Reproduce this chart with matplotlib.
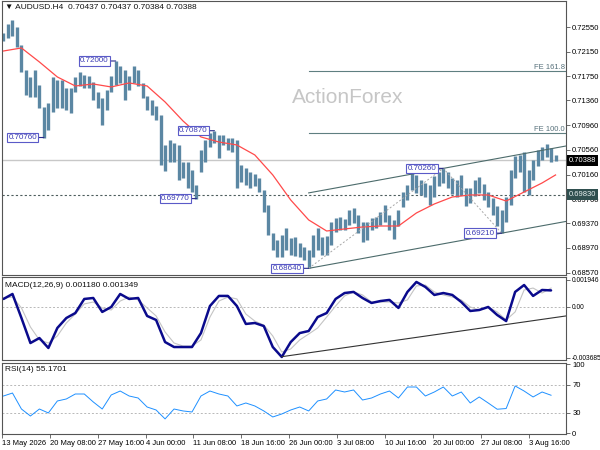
import numpy as np
import matplotlib
matplotlib.use('Agg')
import matplotlib.pyplot as plt

plt.rcParams['font.family'] = ['Liberation Sans', 'DejaVu Sans']

# each plotted bar stands for three H4 bars
bar_high = [
    0.72454, 0.72600, 0.72665, 0.72551, 0.72260, 0.71855, 0.71741, 0.71855, 0.71611, 0.71255,
    0.71320, 0.71741, 0.71692, 0.71692, 0.71563, 0.71563, 0.71741, 0.71822, 0.71773, 0.71757,
    0.71660, 0.71498, 0.71401, 0.71530, 0.71757, 0.72000, 0.71919, 0.71855, 0.71757, 0.71919,
    0.71855, 0.71644, 0.71433, 0.71368, 0.71271, 0.71125, 0.70639, 0.70720, 0.70672, 0.70639,
    0.70364, 0.70364, 0.70234, 0.69991, 0.70558, 0.70720, 0.70834, 0.70870, 0.70801, 0.70801,
    0.70753, 0.70753, 0.70720, 0.70315, 0.70266, 0.70201, 0.70169, 0.70104, 0.69910, 0.69667,
    0.69213, 0.69100, 0.69181, 0.69294, 0.69132, 0.69149, 0.69051, 0.68986, 0.68938, 0.69181,
    0.69294, 0.69149, 0.69165, 0.69391, 0.69456, 0.69472, 0.69440, 0.69586, 0.69618, 0.69505,
    0.69391, 0.69391, 0.69456, 0.69472, 0.69553, 0.69667, 0.69505, 0.69424, 0.69586, 0.69877,
    0.69991, 0.70201, 0.70153, 0.70072, 0.70023, 0.69991, 0.70137, 0.70201, 0.70260, 0.70201,
    0.70104, 0.70072, 0.70153, 0.69942, 0.69942, 0.70072, 0.70121, 0.70007, 0.69877, 0.69780,
    0.69650, 0.69586, 0.69796, 0.70234, 0.70461, 0.70477, 0.70526, 0.70234, 0.70396, 0.70558,
    0.70607, 0.70656, 0.70591, 0.70477,
]
bar_low = [
    0.72324, 0.72373, 0.72406, 0.72227, 0.71822, 0.71449, 0.71417, 0.71417, 0.71239, 0.70760,
    0.70882, 0.71174, 0.71239, 0.71239, 0.71206, 0.71158, 0.71498, 0.71595, 0.71563, 0.71563,
    0.71368, 0.71239, 0.70963, 0.71206, 0.71498, 0.71611, 0.71644, 0.71368, 0.71530, 0.71644,
    0.71595, 0.71401, 0.71206, 0.71125, 0.71044, 0.70315, 0.70218, 0.70364, 0.70364, 0.70072,
    0.70104, 0.69942, 0.69877, 0.69770, 0.70201, 0.70364, 0.70607, 0.70672, 0.70428, 0.70639,
    0.70558, 0.70526, 0.69942, 0.70040, 0.69991, 0.69942, 0.69975, 0.69877, 0.69553, 0.69181,
    0.68938, 0.68824, 0.68824, 0.68938, 0.68857, 0.68841, 0.68824, 0.68776, 0.68640, 0.68824,
    0.68938, 0.68857, 0.68857, 0.69019, 0.69230, 0.69262, 0.69262, 0.69343, 0.69375, 0.69213,
    0.69067, 0.69100, 0.69262, 0.69294, 0.69343, 0.69391, 0.69262, 0.69116, 0.69327, 0.69634,
    0.69748, 0.69910, 0.69861, 0.69829, 0.69796, 0.69667, 0.69796, 0.69975, 0.70023, 0.69942,
    0.69845, 0.69796, 0.69829, 0.69650, 0.69699, 0.69812, 0.69861, 0.69748, 0.69634, 0.69505,
    0.69327, 0.69210, 0.69391, 0.69667, 0.70104, 0.70201, 0.69877, 0.69829, 0.70072, 0.70299,
    0.70396, 0.70445, 0.70364, 0.70384,
]
# moving average, every 4th plotted bar plus the last one
ema_line = [0.72162, 0.72211, 0.71984, 0.71741, 0.71595, 0.71627, 0.71579, 0.71644,
            0.71595, 0.71336, 0.71028, 0.70769, 0.70687, 0.70639, 0.70477, 0.70153,
            0.69747, 0.69424, 0.69245, 0.69278, 0.69310, 0.69326, 0.69326, 0.69537,
            0.69683, 0.69796, 0.69829, 0.69829, 0.69731, 0.69877, 0.70023, 0.70153]

# indicators, every 2nd plotted bar
macd_main = [
    0.00056, 0.00092, -0.00082, -0.00263, -0.00227, -0.00299, -0.00154, -0.00082, -0.00046, 0.00056,
    0.00063, -0.00038, -0.00002, 0.00092, 0.00056, 0.00063, -0.00067, -0.00096, -0.00256, -0.00292,
    -0.00292, -0.00292, -0.00191, 0.00005, 0.00078, 0.00078, 0.00005, -0.00125, -0.00118, -0.00140,
    -0.00292, -0.00364, -0.00256, -0.00191, -0.00176, -0.00075, -0.00046, 0.00056, 0.00099, 0.00107,
    0.00063, 0.00027, 0.00041, 0.00049, -0.00009, 0.00107, 0.00179, 0.00143, 0.00085, 0.00099,
    0.00085, 0.00034, -0.00031, -0.00024, -0.00002, -0.00060, -0.00104, 0.00107, 0.00157, 0.00078,
    0.00121, 0.00118,
]
macd_signal = [
    0.00063, 0.00070, -0.00009, -0.00147, -0.00241, -0.00263, -0.00212, -0.00118, -0.00053, 0.00020,
    0.00034, -0.00009, -0.00024, 0.00041, 0.00070, 0.00049, -0.00009, -0.00067, -0.00183, -0.00263,
    -0.00285, -0.00285, -0.00241, -0.00075, 0.00041, 0.00070, 0.00056, -0.00053, -0.00104, -0.00133,
    -0.00212, -0.00328, -0.00306, -0.00241, -0.00198, -0.00154, -0.00075, 0.00005, 0.00078, 0.00107,
    0.00085, 0.00034, 0.00034, 0.00034, 0.00027, 0.00049, 0.00150, 0.00157, 0.00107, 0.00085,
    0.00070, 0.00049, -0.00002, -0.00024, -0.00002, -0.00038, -0.00096, -0.00038, 0.00121, 0.00135,
    0.00099, 0.00135,
]
rsi_line = [
    54.1, 58.4, 35.3, 25.2, 35.3, 29.6, 46.9, 49.8, 57.0, 57.0,
    45.5, 35.3, 55.6, 61.3, 54.1, 51.2, 38.2, 33.9, 21.0, 35.3,
    32.5, 31.0, 54.1, 61.3, 57.0, 54.1, 39.7, 44.0, 39.7, 32.5,
    23.8, 28.1, 33.9, 38.2, 32.5, 46.9, 49.8, 62.8, 59.9, 62.8,
    48.3, 51.2, 57.0, 61.3, 51.2, 67.1, 67.1, 54.1, 59.9, 67.1,
    54.1, 59.9, 44.0, 52.7, 44.0, 35.0, 36.0, 68.6, 61.3, 52.7,
    59.9, 55.2,
]
macd_support = [-0.00362, -0.00067]   # trendline under MACD lows

swing_prices = [0.72000, 0.70760, 0.70870, 0.69770, 0.68640, 0.70260, 0.69210]
swing_kind = ['high', 'low', 'high', 'low', 'low', 'high', 'low']
fe_ratios = [1.0, 1.618]
fe_labels = ['FE 100.0', 'FE 161.8']

last_ohlc = [0.70437, 0.70437, 0.70384, 0.70388]
key_level = 0.69830
macd_header = [0.001180, 0.001349]
rsi_header = 55.1701

price_ticks = [0.72550, 0.72150, 0.71750, 0.71360, 0.70960, 0.70560,
               0.70160, 0.69760, 0.69370, 0.68970, 0.68570]
macd_ticks = [0.001946, 0.0, -0.003685]
macd_tick_labels = ['0.001946', '0.00', '-0.003685']
rsi_ticks = [100, 70, 30, 0]
date_labels = ['13 May 2026', '20 May 08:00', '27 May 16:00', '4 Jun 00:00',
               '11 Jun 08:00', '18 Jun 16:00', '26 Jun 00:00', '3 Jul 08:00',
               '10 Jul 16:00', '20 Jul 00:00', '27 Jul 08:00', '3 Aug 16:00']

# x is counted in H4 bars
n = len(bar_high)
bar_x = np.arange(n) * 3 + 1
ema_idx = list(range(0, n, 4)) + [n - 1]
ema_x = bar_x[ema_idx]
ind_x = np.arange(len(macd_main)) * 6 + 1
x_right = 377
frame = '#555555'
fs = 5.5

fig = plt.figure(figsize=(6, 4.5), dpi=100)
ax = fig.add_axes([2/600, 1 - 274.5/450, 564/600, 273.5/450])
ax2 = fig.add_axes([2/600, 1 - 360/450, 564/600, 83/450])
ax3 = fig.add_axes([2/600, 1 - 434/450, 564/600, 71.5/450])

for a in (ax, ax2, ax3):
    a.set_xlim(0, x_right)
    for s in a.spines.values():
        s.set_color(frame)
        s.set_linewidth(0.8)
    a.yaxis.tick_right()
    a.tick_params(axis='y', length=3, width=0.6, pad=1.5, labelsize=fs, color=frame)
for a in (ax, ax2):
    a.tick_params(axis='x', bottom=False, labelbottom=False)

# ---- price panel
ax.set_ylim(0.68540, 0.72972)
ax.text(0.613, 0.646, 'ActionForex', transform=ax.transAxes, fontsize=15,
        color='#c6c6c6', ha='center', va='center', zorder=0)
ax.axhline(last_ohlc[3], color='#c8c8c8', lw=1.0, zorder=1)
ax.axhline(key_level, color='#4d5d5d', lw=0.8, ls=(0, (2, 2)), zorder=1)
ax.vlines(bar_x, bar_low, bar_high, color='#5b87a3', lw=2.4, zorder=2)
ax.plot(ema_x, ema_line, color='#ff4a4a', lw=0.9, zorder=3)

highs = np.array(bar_high)
lows = np.array(bar_low)
sw_x = []
for p, kind in zip(swing_prices, swing_kind):
    arr = highs if kind == 'high' else lows
    i = np.where(np.isclose(arr, p, atol=1e-7, rtol=0))[0][0]
    sw_x.append(bar_x[i])
    ax.annotate('%.5f' % p, xy=(bar_x[i], p), xytext=(-7, 0), textcoords='offset pixels',
                ha='right', va='center', fontsize=5.8, color='#3c3cb4', zorder=6,
                bbox=dict(boxstyle='square,pad=0.15', fc='white', ec='#5a5ac8', lw=0.8),
                arrowprops=dict(arrowstyle='-', color='#2a2a8a', lw=0.8,
                                shrinkA=0, shrinkB=0))

# channel through the last swing points
x_lo, x_hi, x_lo2 = sw_x[4], sw_x[5], sw_x[6]
p_lo, p_hi, p_lo2 = swing_prices[4], swing_prices[5], swing_prices[6]
slope = (p_lo2 - p_lo) / (x_lo2 - x_lo)
ch_x = np.array([x_lo, x_right])
ax.plot(ch_x, p_lo + slope * (ch_x - x_lo), color='#4c6b6b', lw=0.8, zorder=4)
ax.plot(ch_x, p_hi + slope * (ch_x - x_hi), color='#4c6b6b', lw=0.8, zorder=4)
ax.plot([x_lo, x_hi, x_lo2], [p_lo, p_hi, p_lo2], color='#a8a8a8', lw=0.7,
        ls=(0, (2, 2)), zorder=4)
for r, lbl in zip(fe_ratios, fe_labels):
    lvl = p_lo2 + (p_hi - p_lo) * r
    ax.plot([x_lo, x_right], [lvl, lvl], color='#5f7f80', lw=0.8, zorder=4)
    ax.text(0.998, lvl, lbl, transform=ax.get_yaxis_transform(), ha='right',
            va='bottom', fontsize=fs, color='#56707a')

ax.set_yticks(price_ticks)
ax.set_yticklabels(['%.5f' % t for t in price_ticks])
ax.text(1.005, last_ohlc[3], '%.5f' % last_ohlc[3], transform=ax.get_yaxis_transform(),
        ha='left', va='center', fontsize=fs, color='white', clip_on=False, zorder=10,
        bbox=dict(boxstyle='square,pad=0.25', fc='black', ec='none'))
ax.text(1.005, key_level, '%.5f' % key_level, transform=ax.get_yaxis_transform(),
        ha='left', va='center', fontsize=fs, color='#e8f0f0', clip_on=False, zorder=10,
        bbox=dict(boxstyle='square,pad=0.25', fc='#2f4f4f', ec='none'))
ax.text(0.006, 0.978, '\u25BC AUDUSD.H4  ' + ' '.join('%.5f' % v for v in last_ohlc),
        transform=ax.transAxes, ha='left', va='center', fontsize=6, color='#111111')

# ---- MACD panel
ax2.set_ylim(-0.00386, 0.00215)
ax2.axhline(0, color='#b8b8b8', lw=0.7, ls=(0, (2, 2)))
ax2.plot(ind_x, macd_signal, color='#c4c4c4', lw=0.8)
ax2.plot(ind_x, macd_main, color='#0a0a8c', lw=1.8, solid_capstyle='round')
i_min = int(np.argmin(macd_main))
ax2.plot([ind_x[i_min], x_right], macd_support, color='#333333', lw=0.8)
ax2.set_yticks(macd_ticks)
ax2.set_yticklabels(macd_tick_labels)
ax2.tick_params(axis='y', labelsize=4.8, pad=1)
ax2.text(0.006, 0.9, 'MACD(12,26,9) %.6f %.6f' % tuple(macd_header),
         transform=ax2.transAxes, ha='left', va='center', fontsize=6, color='#111111')

# ---- RSI panel
ax3.set_ylim(-0.8, 102.5)
for lvl in (70, 30):
    ax3.axhline(lvl, color='#b8b8b8', lw=0.7, ls=(0, (2, 2)))
ax3.plot(ind_x, rsi_line, color='#1e90ff', lw=0.7)
ax3.set_yticks(rsi_ticks)
ax3.set_yticklabels([str(t) for t in rsi_ticks])
ax3.text(0.006, 0.9, 'RSI(14) %.4f' % rsi_header, transform=ax3.transAxes,
         ha='left', va='center', fontsize=6, color='#111111')
ax3.set_xticks(np.arange(len(date_labels)) * 32)
ax3.set_xticklabels(date_labels, ha='left')
ax3.tick_params(axis='x', length=3, width=0.6, pad=1.5, labelsize=fs, color=frame)

fig.savefig('out.png', dpi=100, facecolor='white')
